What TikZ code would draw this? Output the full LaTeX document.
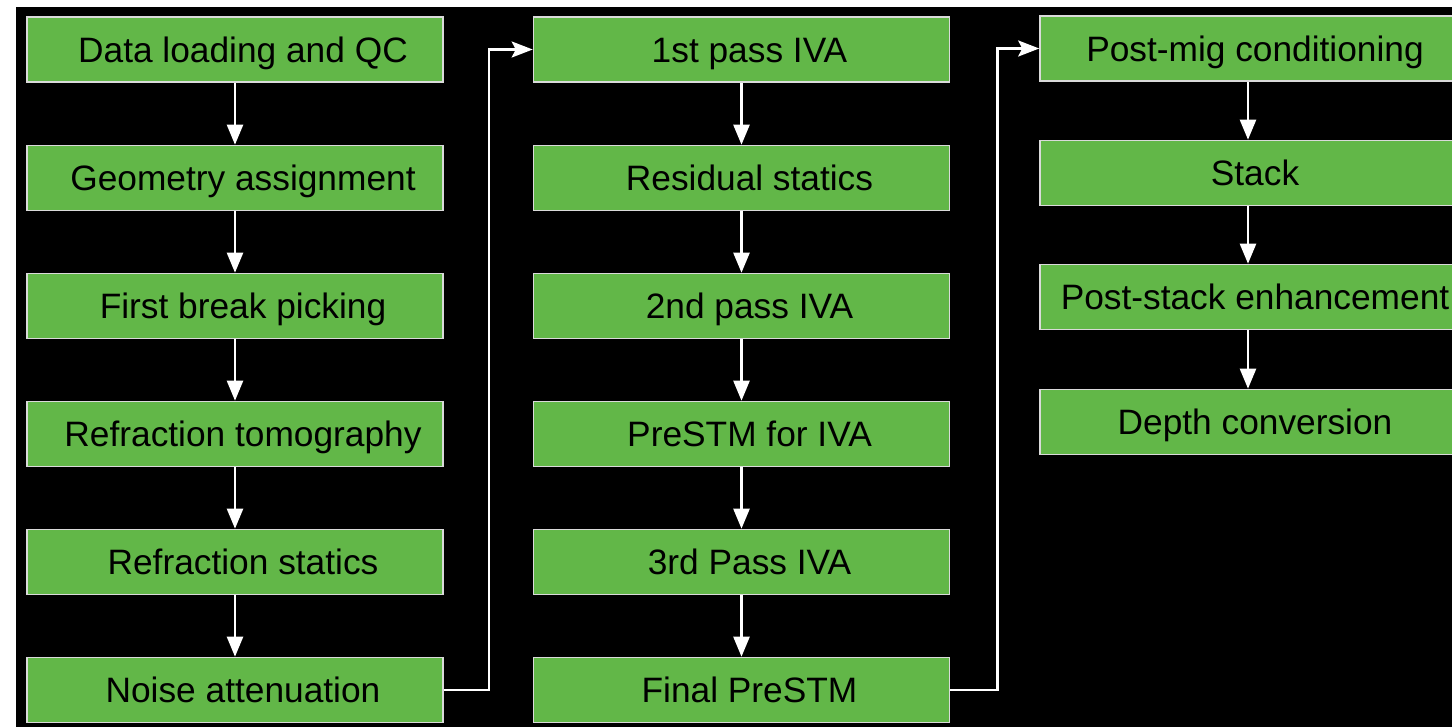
\documentclass[tikz,border=0pt]{standalone}
\usepackage{fontspec}
\setmainfont{Liberation Sans}
\usetikzlibrary{arrows.meta}
\definecolor{boxgreen}{RGB}{98,183,72}
\definecolor{boxline}{RGB}{218,218,218}
\newcommand\tx[1]{\hspace*{8pt}#1\hspace*{-8pt}}
\begin{document}
\begin{tikzpicture}[x=1pt,y=-1pt,
  stepbox/.style={draw=boxline,line width=1.6pt,fill=boxgreen,minimum height=65pt,inner sep=0pt,
    font=\fontsize{35.3}{40}\selectfont,text height=25.2pt,text depth=0pt,text=black},
  colbox/.style={stepbox,minimum width=416pt},
  widebox/.style={stepbox,minimum width=430pt},
  flow/.style={draw=white,line width=2.4pt,-{Triangle[length=20pt,width=16pt]}},
  jump/.style={draw=white,line width=2.4pt,-{Stealth[length=21pt,width=16pt,inset=4pt]}}]
\useasboundingbox (0,0) rectangle (1452,727);
\fill[white] (0,0) rectangle (1452,727);
\fill[black] (16,7) rectangle (1452,727);
% column 1
\node[colbox] (a1) at (235,49.5) {\tx{Data loading and QC}};
\node[colbox] (a2) at (235,178) {\tx{Geometry assignment}};
\node[colbox] (a3) at (235,306) {\tx{First break picking}};
\node[colbox] (a4) at (235,434) {\tx{Refraction tomography}};
\node[colbox] (a5) at (235,562) {\tx{Refraction statics}};
\node[colbox] (a6) at (235,690) {\tx{Noise attenuation}};
% column 2
\node[colbox] (b1) at (741.5,49.5) {\tx{1st pass IVA}};
\node[colbox] (b2) at (741.5,178) {\tx{Residual statics}};
\node[colbox] (b3) at (741.5,306) {\tx{2nd pass IVA}};
\node[colbox] (b4) at (741.5,434) {\tx{PreSTM for IVA}};
\node[colbox] (b5) at (741.5,562) {\tx{3rd Pass IVA}};
\node[colbox] (b6) at (741.5,690) {\tx{Final PreSTM}};
% column 3
\node[widebox] (c1) at (1255,48.5) {Post-mig conditioning};
\node[widebox] (c2) at (1255,173) {Stack};
\node[widebox] (c3) at (1255,297) {Post-stack enhancement};
\node[widebox] (c4) at (1255,422) {Depth conversion};
% arrows
\foreach \p/\q in {a1/a2,a2/a3,a3/a4,a4/a5,a5/a6,b1/b2,b2/b3,b3/b4,b4/b5,b5/b6}
  \draw[flow] (\p.south) -- (\q.north);
\foreach \p/\q in {c1/c2,c2/c3,c3/c4}
  \draw[flow] ([xshift=-7pt]\p.south) -- ([xshift=-7pt]\q.north);
\draw[jump] (a6.east) -- ++(45,0) |- (b1.west);
\draw[jump] (b6.east) -- ++(47,0) |- (c1.west);
\end{tikzpicture}
\end{document}
